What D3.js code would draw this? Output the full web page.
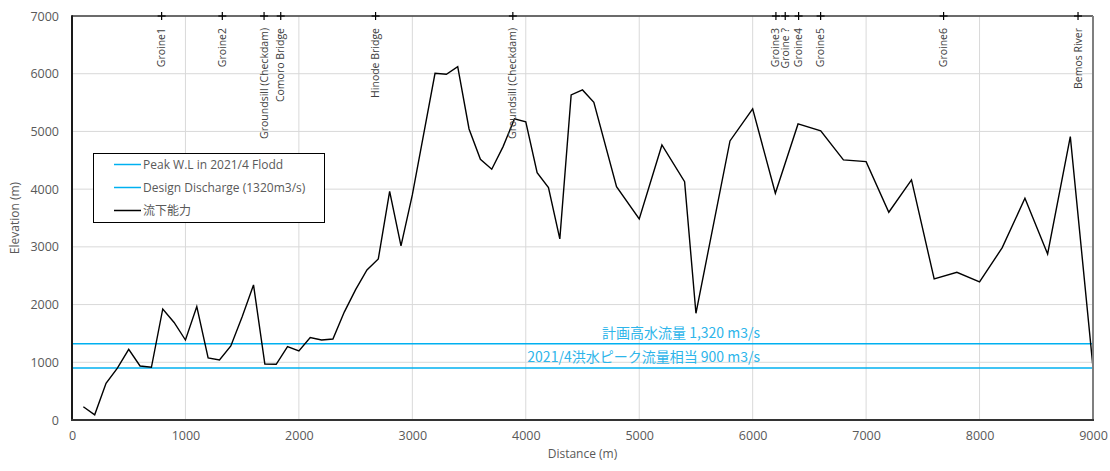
<!DOCTYPE html>
<html>
<head>
<meta charset="utf-8">
<script src="https://cdn.jsdelivr.net/npm/d3@7"></script>
<style>
  html, body { margin: 0; padding: 0; background: #fff; }
  svg { display: block; }
</style>
</head>
<body>
<svg id="chart" width="1110" height="471"></svg>
<script>
// Discharge capacity along the river (distance in m, capacity value)
const distances = [100, 200, 300, 400, 500, 600, 700, 800, 900, 1000,
  1100, 1200, 1300, 1400, 1500, 1600, 1700, 1800, 1900, 2000,
  2100, 2200, 2300, 2400, 2500, 2600, 2700, 2800, 2900, 3000,
  3200, 3300, 3400, 3500, 3600, 3700, 3800, 3900, 4000, 4100,
  4200, 4300, 4400, 4500, 4600, 4800, 5000, 5200, 5400, 5500,
  5800, 6000, 6200, 6400, 6600, 6800, 7000, 7200, 7400, 7600,
  7800, 8000, 8200, 8400, 8600, 8800, 9000];
const capacity = [230, 90, 636, 900, 1225, 936, 913, 1924, 1690, 1386,
  1964, 1074, 1040, 1282, 1790, 2340, 970, 965, 1270, 1196,
  1430, 1386, 1404, 1870, 2260, 2600, 2790, 3960, 3016, 3900,
  6008, 5991, 6123, 5043, 4518, 4345, 4737, 5217, 5165, 4286,
  4026, 3137, 5633, 5719, 5506, 4044, 3484, 4766, 4130, 1849,
  4835, 5390, 3929, 5130, 5009, 4506, 4477, 3600, 4160, 2444,
  2560, 2392, 2986, 3842, 2877, 4910, 913];

// Reference discharges (horizontal lines)
const designDischarge = 1320;
const peakFlood2021 = 900;
const refLabels = ["計画高水流量 1,320 m3/s", "2021/4洪水ピーク流量相当 900 m3/s"];

// Structures along the river
const landmarkNames = ["Groine1", "Groine2", "Groundsill (Checkdam)", "Comoro Bridge",
  "Hinode Bridge", "Groundsill (Checkdam)", "Groine3", "Groine ?", "Groine4",
  "Groine5", "Groine6", "Bemos River"];
const landmarkDistances = [790, 1325, 1693, 1840, 2676, 3886, 6205, 6287, 6405, 6599, 7683, 8868];

const xTicks = [0, 1000, 2000, 3000, 4000, 5000, 6000, 7000, 8000, 9000];
const yTicks = [0, 1000, 2000, 3000, 4000, 5000, 6000, 7000];

const legendItems = [
  { label: "Peak W.L in 2021/4 Flodd", color: "#00B0F0" },
  { label: "Design Discharge (1320m3/s)", color: "#00B0F0" },
  { label: "流下能力", color: "#000000" }
];

const margin = { left: 72, right: 17, top: 16, bottom: 51 };
const W = 1110, H = 471;
const svg = d3.select("#chart");
const font = "'Open Sans', 'Noto Sans CJK JP', sans-serif";
const cjkFont = "'Noto Sans CJK JP', 'Open Sans', sans-serif";

const x = d3.scaleLinear().domain([0, 9000]).range([margin.left, W - margin.right]);
const y = d3.scaleLinear().domain([0, 7000]).range([H - margin.bottom, margin.top]);

// Gridlines
const grid = svg.append("g");
grid.selectAll("line.v").data(xTicks).join("line")
  .attr("x1", d => x(d)).attr("x2", d => x(d))
  .attr("y1", y(0)).attr("y2", y(7000))
  .attr("stroke", "#d9d9d9").attr("stroke-width", 1);
grid.selectAll("line.h").data(yTicks).join("line")
  .attr("x1", x(0)).attr("x2", x(9000))
  .attr("y1", d => y(d)).attr("y2", d => y(d))
  .attr("stroke", "#d9d9d9").attr("stroke-width", 1);

// Axes (labels only; frame drawn separately)
const xAxis = svg.append("g").attr("transform", `translate(0,${y(0)})`)
  .call(d3.axisBottom(x).tickValues(xTicks).tickFormat(d3.format("d")).tickSize(0).tickPadding(11));
const yAxis = svg.append("g").attr("transform", `translate(${x(0)},0)`)
  .call(d3.axisLeft(y).tickValues(yTicks).tickFormat(d3.format("d")).tickSize(0).tickPadding(13));
[xAxis, yAxis].forEach(a => {
  a.select(".domain").remove();
  a.selectAll("text").attr("fill", "#595959").style("font-family", font).style("font-size", "12.5px");
});

// Reference discharge lines
const refValues = [designDischarge, peakFlood2021];
svg.selectAll("line.ref").data(refValues).join("line")
  .attr("x1", x(0)).attr("x2", x(9000))
  .attr("y1", d => y(d)).attr("y2", d => y(d))
  .attr("stroke", "#00B0F0").attr("stroke-width", 1.5);
svg.selectAll("text.ref").data(refValues).join("text")
  .attr("x", x(6065)).attr("y", d => y(d) - 6)
  .attr("text-anchor", "end")
  .attr("fill", "#2DB5EA")
  .style("font-family", cjkFont).style("font-size", "14px")
  .text((d, i) => refLabels[i]);

// Capacity line
const pts = distances.map((d, i) => [d, capacity[i]]);
svg.append("path")
  .datum(pts)
  .attr("fill", "none").attr("stroke", "#000").attr("stroke-width", 1.4)
  .attr("stroke-linejoin", "miter")
  .attr("d", d3.line().x(d => x(d[0])).y(d => y(d[1])));

// Plot frame
svg.append("line").attr("x1", x(0)).attr("x2", x(9000)).attr("y1", y(7000)).attr("y2", y(7000))
  .attr("stroke", "#404040").attr("stroke-width", 1.5);
svg.append("line").attr("x1", x(9000)).attr("x2", x(9000)).attr("y1", y(7000)).attr("y2", y(0))
  .attr("stroke", "#7f7f7f").attr("stroke-width", 2);
svg.append("line").attr("x1", x(0)).attr("x2", x(0)).attr("y1", y(7000) - 0.75).attr("y2", y(0) + 1)
  .attr("stroke", "#1a1a1a").attr("stroke-width", 2);
svg.append("line").attr("x1", x(0) - 1).attr("x2", x(9000) + 1).attr("y1", y(0)).attr("y2", y(0))
  .attr("stroke", "#333").attr("stroke-width", 2);

// Landmark markers and labels
const lm = svg.append("g");
landmarkDistances.forEach((d, i) => {
  const cx = x(d), cy = y(7000);
  lm.append("line").attr("x1", cx - 4).attr("x2", cx + 4).attr("y1", cy).attr("y2", cy)
    .attr("stroke", "#000").attr("stroke-width", 1.2);
  lm.append("line").attr("x1", cx).attr("x2", cx).attr("y1", cy - 4).attr("y2", cy + 4)
    .attr("stroke", "#000").attr("stroke-width", 1.2);
  lm.append("text")
    .attr("transform", `translate(${cx + 3.5},${cy + 12}) rotate(-90)`)
    .attr("text-anchor", "end")
    .attr("fill", "#404040")
    .style("font-family", font).style("font-size", "10.5px")
    .text(landmarkNames[i]);
});

// Axis titles
svg.append("text").attr("x", (x(0) + x(9000)) / 2).attr("y", 458)
  .attr("text-anchor", "middle").attr("fill", "#595959")
  .style("font-family", font).style("font-size", "12px").text("Distance (m)");
svg.append("text").attr("transform", `translate(19,${(y(0) + y(7000)) / 2}) rotate(-90)`)
  .attr("text-anchor", "middle").attr("fill", "#595959")
  .style("font-family", font).style("font-size", "12px").text("Elevation (m)");

// Legend
const lg = svg.append("g");
lg.append("rect").attr("x", 93.5).attr("y", 153.5).attr("width", 231).attr("height", 69)
  .attr("fill", "#fff").attr("stroke", "#000").attr("stroke-width", 1);
legendItems.forEach((it, i) => {
  const ly = 164.5 + i * 23;
  lg.append("line").attr("x1", 114).attr("x2", 141).attr("y1", ly).attr("y2", ly)
    .attr("stroke", it.color).attr("stroke-width", 1.5);
  lg.append("text").attr("x", 143).attr("y", ly + 4.5)
    .attr("fill", "#595959")
    .style("font-family", font).style("font-size", "12px")
    .text(it.label);
});
</script>
</body>
</html>
